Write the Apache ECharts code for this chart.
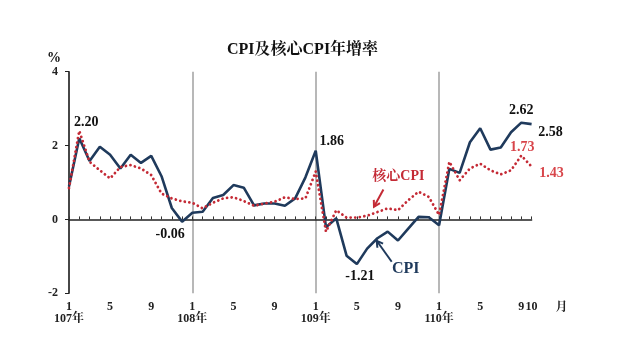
<!DOCTYPE html>
<html>
<head>
<meta charset="utf-8">
<script src="https://cdn.jsdelivr.net/npm/echarts@6/dist/echarts.min.js"></script>
<style>html,body{margin:0;padding:0;background:#fff}#c{width:640px;height:360px}</style>
</head>
<body>
<div id="c"></div>
<script>
const categories = [
 '107/01','107/02','107/03','107/04','107/05','107/06','107/07','107/08','107/09','107/10','107/11','107/12',
 '108/01','108/02','108/03','108/04','108/05','108/06','108/07','108/08','108/09','108/10','108/11','108/12',
 '109/01','109/02','109/03','109/04','109/05','109/06','109/07','109/08','109/09','109/10','109/11','109/12',
 '110/01','110/02','110/03','110/04','110/05','110/06','110/07','110/08','110/09','110/10'];
const tickLabels = [
 '1\n107年','','','','5','','','','9','','','',
 '1\n108年','','','','5','','','','9','','','',
 '1\n109年','','','','5','','','','9','','','',
 '1\n110年','','','','5','','','','9','10'];
const yTicks = [-2, 0, 2, 4];
const cpi = [
 0.89, 2.20, 1.58, 1.97, 1.75, 1.38, 1.75, 1.53, 1.72, 1.17, 0.31, -0.06,
 0.18, 0.21, 0.58, 0.66, 0.93, 0.86, 0.38, 0.43, 0.43, 0.37, 0.57, 1.14,
 1.86, -0.21, 0.03, -0.98, -1.21, -0.79, -0.51, -0.33, -0.57, -0.25, 0.07, 0.06,
 -0.16, 1.37, 1.26, 2.09, 2.47, 1.89, 1.95, 2.36, 2.62, 2.58];
const coreCpi = [
 0.85, 2.40, 1.56, 1.33, 1.11, 1.42, 1.47, 1.38, 1.20, 0.70, 0.57, 0.49,
 0.45, 0.30, 0.45, 0.57, 0.60, 0.50, 0.37, 0.43, 0.48, 0.60, 0.55, 0.57,
 1.30, -0.33, 0.25, 0.05, 0.05, 0.10, 0.20, 0.30, 0.25, 0.52, 0.75, 0.61,
 0.12, 1.56, 1.06, 1.38, 1.51, 1.33, 1.22, 1.33, 1.73, 1.43];
const cpiLabelIdx = [1, 11, 24, 28, 44, 45];
const coreLabelIdx = [44, 45];
const seriesNames = ['CPI', '核心CPI'];
const titleText = 'CPI及核心CPI年增率';

const FONT = "'Liberation Serif','Noto Serif CJK TC','Noto Sans CJK TC',serif";
const NAVY = '#1f3a5c';
const RED = '#c42a35';
const LABEL_RED = '#d8454a';

const cpiOffsets = {1:[7,-16], 11:[-12,13], 24:[16,-9], 28:[3,12], 44:[0,-12], 45:[19,8]};
const coreOffsets = {44:[1,-8], 45:[20,7]};

function buildData(values, idxs, offsets, color) {
  return values.map((v, i) => {
    if (idxs.indexOf(i) < 0) return v;
    return {
      value: v,
      label: {
        show: true, position: 'inside', align: 'center', verticalAlign: 'middle',
        offset: offsets[i], formatter: () => v.toFixed(2),
        color: color, fontFamily: FONT, fontWeight: 'bold', fontSize: 14
      }
    };
  });
}

const chart = echarts.init(document.getElementById('c'), null, {renderer: 'canvas'});
const option = {
  animation: false,
  backgroundColor: '#fff',
  title: {
    text: titleText, left: 222, top: 37,
    textStyle: {fontFamily: FONT, fontWeight: 'bold', fontSize: 16, color: '#111'}
  },
  grid: {left: 69, right: 108.4, top: 71.7, bottom: 66.7, containLabel: false},
  xAxis: [{
    type: 'category', data: categories, boundaryGap: false, position: 'bottom',
    axisLine: {show: false, onZero: false}, axisTick: {show: false},
    axisLabel: {
      interval: 0, margin: 8, formatter: (val, idx) => tickLabels[idx],
      fontFamily: FONT, fontWeight: 'bold', fontSize: 12, color: '#222', lineHeight: 12
    },
    splitLine: {show: true, interval: (idx) => idx % 12 === 0, lineStyle: {color: '#a0a0a0', width: 1.5}}
  }, {
    type: 'category', data: categories, boundaryGap: false, position: 'top',
    axisLine: {show: true, onZero: true, lineStyle: {color: '#222', width: 1.5}},
    axisTick: {show: true, inside: false, length: 3, interval: 0, lineStyle: {color: '#333', width: 1}},
    axisLabel: {show: false}, splitLine: {show: false}
  }],
  yAxis: {
    type: 'value', min: -2, max: 4, interval: 2,
    axisLine: {show: true, onZero: false, lineStyle: {color: '#222', width: 1.5}},
    axisTick: {show: true, length: 4, lineStyle: {color: '#222', width: 1}},
    axisLabel: {margin: 11, fontFamily: FONT, fontWeight: 'bold', fontSize: 12, color: '#222',
      formatter: (v) => yTicks.indexOf(v) >= 0 ? String(v) : ''},
    splitLine: {show: false}
  },
  series: [{
    name: seriesNames[0], type: 'line', xAxisIndex: 0,
    data: buildData(cpi, cpiLabelIdx, cpiOffsets, '#111'),
    symbol: 'circle', symbolSize: 0, showSymbol: true, showAllSymbol: true,
    lineStyle: {color: NAVY, width: 2.6}, itemStyle: {color: NAVY}, z: 3, silent: true
  }, {
    name: seriesNames[1], type: 'line', xAxisIndex: 0,
    data: buildData(coreCpi, coreLabelIdx, coreOffsets, LABEL_RED),
    symbol: 'circle', symbolSize: 0, showSymbol: true, showAllSymbol: true,
    lineStyle: {color: RED, width: 2.8, type: [0.01, 4.6], cap: 'round'}, itemStyle: {color: RED}, z: 4, silent: true
  }]
};
chart.setOption(option);

function arrow(tail, tip, color) {
  const dx = tip[0] - tail[0], dy = tip[1] - tail[1];
  const len = Math.hypot(dx, dy), ux = dx / len, uy = dy / len;
  const a = Math.PI / 6, L = 7;
  const back = (ang) => [tip[0] - L * (ux * Math.cos(ang) - uy * Math.sin(ang)), tip[1] - L * (uy * Math.cos(ang) + ux * Math.sin(ang))];
  return [
    {type: 'line', shape: {x1: tail[0], y1: tail[1], x2: tip[0], y2: tip[1]}, style: {stroke: color, lineWidth: 2}},
    {type: 'polyline', shape: {points: [back(a), tip, back(-a)]}, style: {stroke: color, lineWidth: 2, fill: null}}
  ];
}
const idx = 30;
const pc = chart.convertToPixel({seriesIndex: 1}, [idx, coreCpi[idx]]);
const pv = chart.convertToPixel({seriesIndex: 0}, [idx, cpi[idx]]);
const yTop = chart.convertToPixel({yAxisIndex: 0}, 4);
const yAxisX = chart.convertToPixel({xAxisIndex: 0}, 0);
const lastX = chart.convertToPixel({xAxisIndex: 0}, categories.length - 1);
const yMin = chart.convertToPixel({yAxisIndex: 0}, -2);

const graphics = [];
graphics.push({type: 'text', x: pc[0] + 21, y: pc[1] - 36, style: {text: seriesNames[1], fill: RED, font: 'bold 14px ' + FONT, textAlign: 'center', textVerticalAlign: 'middle'}});
arrow([pc[0] + 6, pc[1] - 22.6], [pc[0] - 3.4, pc[1] - 5.2], RED).forEach(g => graphics.push(g));
graphics.push({type: 'text', x: pv[0] + 28.4, y: pv[1] + 30.8, style: {text: seriesNames[0], fill: NAVY, font: 'bold 16px ' + FONT, textAlign: 'center', textVerticalAlign: 'middle'}});
arrow([pv[0] + 14.3, pv[1] + 23.5], [pv[0] - 0.7, pv[1] + 2.5], NAVY).forEach(g => graphics.push(g));
graphics.push({type: 'text', x: yAxisX - 15, y: yTop - 13, style: {text: '%', fill: '#111', font: 'bold 14px ' + FONT, textAlign: 'center', textVerticalAlign: 'middle'}});
graphics.push({type: 'text', x: lastX + 30, y: yMin + 15, style: {text: '月', fill: '#222', font: 'bold 12px ' + FONT, textAlign: 'center', textVerticalAlign: 'middle'}});
chart.setOption({graphic: graphics});
</script>
</body>
</html>
